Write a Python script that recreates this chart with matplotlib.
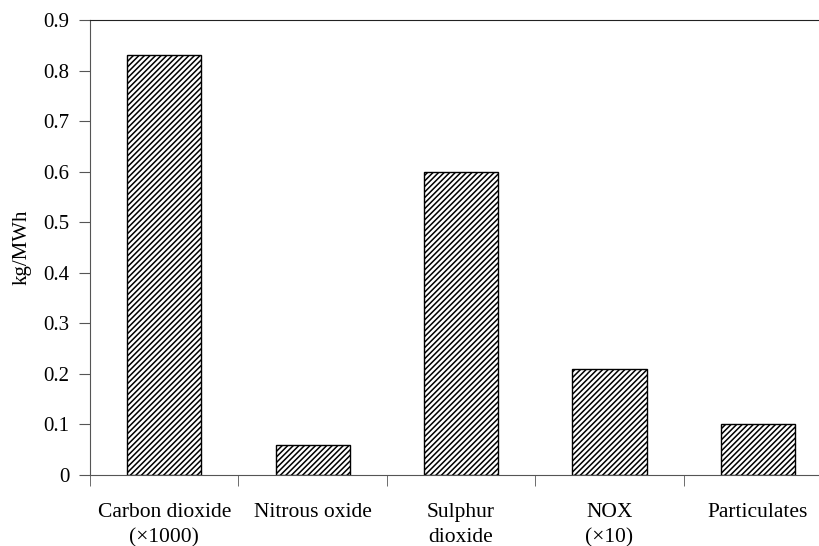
import matplotlib.pyplot as plt
import numpy as np

categories = ["Carbon dioxide\n(\u00d71000)", "Nitrous oxide", "Sulphur\ndioxide", "NOX\n(\u00d710)", "Particulates"]
values = [0.83, 0.06, 0.60, 0.21, 0.10]
yticks = [0, 0.1, 0.2, 0.3, 0.4, 0.5, 0.6, 0.7, 0.8, 0.9]


def main():
    plt.rcParams['font.family'] = ['Liberation Serif', 'DejaVu Serif']
    plt.rcParams['hatch.linewidth'] = 1.1
    plt.rcParams['hatch.color'] = '#333333'

    fig = plt.figure(figsize=(8.2, 5.46), dpi=100)
    # axes runs a bit past the right edge, like the original
    ax = fig.add_axes([90 / 820, 1 - 475 / 546, 742 / 820, 455 / 546])

    x = np.arange(len(values))
    ax.bar(x, values, width=0.5, color='white', edgecolor='black',
           hatch='//////', linewidth=1.0)

    ax.set_xlim(-0.5, len(values) - 0.5)
    ax.set_ylim(0, 0.9)
    ax.set_yticks(yticks)
    ax.set_yticklabels(['0'] + [f'{v:.1f}' for v in yticks[1:]], fontsize=15)
    ax.set_xticks(x)
    ax.set_xticklabels(categories, fontsize=15.5, linespacing=1.45)
    ax.set_xticks(np.arange(len(values) + 1) - 0.5, minor=True)
    ax.tick_params(axis='x', which='major', length=0, pad=20)
    ax.tick_params(axis='x', which='minor', length=8, direction='out', color='#555555')
    ax.tick_params(axis='y', length=8, direction='out', color='#555555', pad=7)
    ax.set_ylabel('kg/MWh', fontsize=15, labelpad=8)

    ax.spines['right'].set_visible(False)
    ax.spines['left'].set_color('#555555')
    ax.spines['bottom'].set_color('#555555')
    ax.spines['top'].set_color('#222222')

    fig.savefig('out.png', dpi=100)


if __name__ == '__main__':
    main()
